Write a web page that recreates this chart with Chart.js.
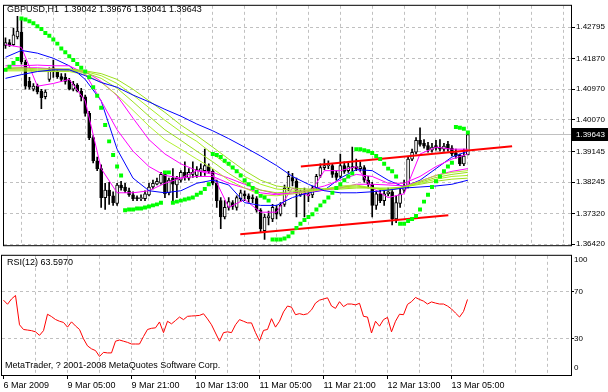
<!DOCTYPE html>
<html>
<head>
<meta charset="utf-8">
<title>GBPUSD,H1</title>
<script src="https://cdn.jsdelivr.net/npm/chart.js@4.4.1/dist/chart.umd.min.js"></script>
<style>
  body { margin: 0; background: #fff; }
  #wrap { position: relative; width: 608px; height: 392px; }
  canvas { position: absolute; left: 0; }
  #mainChart { top: 0; }
  #rsiChart { top: 251px; }
</style>
</head>
<body>
<div id="wrap">
  <canvas id="mainChart" width="608" height="251"></canvas>
  <canvas id="rsiChart" width="608" height="141"></canvas>
</div>
<script>
// GBPUSD H1 candles, bar 0 = 6 Mar 2009
const barOpen = [1.4226,1.4234,1.4228,1.4251,1.4265,1.4177,1.4120,1.4097,1.4106,1.4092,
  1.4075,1.4126,1.4160,1.4149,1.4134,1.4132,1.4123,1.4097,1.4109,1.4092,
  1.4075,1.4026,1.3955,1.3887,1.3864,1.3779,1.3801,1.3784,1.3762,1.3816,
  1.3810,1.3799,1.3787,1.3779,1.3776,1.3776,1.3787,1.3810,1.3818,1.3821,
  1.3847,1.3793,1.3836,1.3816,1.3830,1.3853,1.3836,1.3847,1.3844,1.3856,
  1.3858,1.3870,1.3856,1.3821,1.3770,1.3722,1.3750,1.3764,1.3750,1.3776,
  1.3790,1.3784,1.3779,1.3776,1.3742,1.3682,1.3719,1.3716,1.3747,1.3730,
  1.3759,1.3807,1.3838,1.3827,1.3787,1.3796,1.3784,1.3787,1.3807,1.3844,
  1.3867,1.3873,1.3873,1.3850,1.3841,1.3873,1.3858,1.3870,1.3870,1.3864,
  1.3867,1.3830,1.3818,1.3756,1.3790,1.3770,1.3790,1.3796,1.3716,1.3762,
  1.3801,1.3813,1.3892,1.3912,1.3947,1.3938,1.3932,1.3918,1.3932,1.3927,
  1.3921,1.3935,1.3924,1.3910,1.3904,1.3878,1.39042];
const barHigh = [1.4248,1.4243,1.4277,1.4311,1.4308,1.4183,1.4132,1.4114,1.4112,1.4097,
  1.4095,1.4160,1.4183,1.4154,1.4143,1.4143,1.4129,1.4120,1.4114,1.4100,
  1.4080,1.4032,1.3961,1.3898,1.3875,1.3821,1.3824,1.3796,1.3821,1.3827,
  1.3821,1.3807,1.3796,1.3784,1.3787,1.3799,1.3821,1.3830,1.3836,1.3853,
  1.3856,1.3836,1.3864,1.3841,1.3858,1.3884,1.3864,1.3884,1.3870,1.3878,
  1.3921,1.3878,1.3861,1.3830,1.3779,1.3770,1.3779,1.3770,1.3784,1.3801,
  1.3799,1.3790,1.3787,1.3782,1.3747,1.3730,1.3739,1.3759,1.3756,1.3764,
  1.3816,1.3856,1.3850,1.3836,1.3801,1.3807,1.3799,1.3813,1.3847,1.3878,
  1.3892,1.3887,1.3878,1.3858,1.3907,1.3884,1.3881,1.3927,1.3892,1.3884,
  1.3873,1.3841,1.3824,1.3796,1.3801,1.3801,1.3807,1.3804,1.3784,1.3807,
  1.3830,1.3898,1.3921,1.3955,1.3984,1.3949,1.3941,1.3938,1.3947,1.3949,
  1.3938,1.3944,1.3932,1.3921,1.3907,1.3921,1.39676];
const barLow = [1.4217,1.4223,1.4226,1.4245,1.4171,1.4097,1.4097,1.4092,1.4083,1.4040,
  1.4069,1.4120,1.4132,1.4129,1.4120,1.4112,1.4095,1.4092,1.4089,1.4063,
  1.4018,1.3949,1.3881,1.3858,1.3750,1.3744,1.3759,1.3756,1.3756,1.3801,
  1.3793,1.3782,1.3770,1.3770,1.3770,1.3770,1.3784,1.3804,1.3816,1.3818,
  1.3779,1.3787,1.3770,1.3779,1.3824,1.3830,1.3830,1.3838,1.3838,1.3841,
  1.3844,1.3850,1.3816,1.3750,1.3688,1.3716,1.3742,1.3744,1.3742,1.3767,
  1.3770,1.3764,1.3764,1.3736,1.3676,1.3656,1.3699,1.3708,1.3716,1.3725,
  1.3753,1.3799,1.3813,1.3722,1.3782,1.3722,1.3767,1.3779,1.3801,1.3838,
  1.3861,1.3864,1.3838,1.3830,1.3836,1.3850,1.3853,1.3856,1.3858,1.3856,
  1.3824,1.3807,1.3722,1.3744,1.3764,1.3756,1.3784,1.3699,1.3705,1.3750,
  1.3793,1.3807,1.3887,1.3907,1.3930,1.3924,1.3912,1.3912,1.3918,1.3915,
  1.3915,1.3915,1.3901,1.3895,1.3873,1.3873,1.39041];
const barClose = [1.4234,1.4228,1.4257,1.4268,1.4177,1.4106,1.4103,1.4106,1.4089,1.4072,
  1.4089,1.4154,1.4149,1.4134,1.4126,1.4120,1.4097,1.4112,1.4092,1.4075,
  1.4026,1.3955,1.3887,1.3864,1.3779,1.3801,1.3784,1.3764,1.3816,1.3807,
  1.3799,1.3787,1.3776,1.3776,1.3779,1.3790,1.3810,1.3821,1.3827,1.3847,
  1.3790,1.3830,1.3818,1.3836,1.3853,1.3838,1.3853,1.3853,1.3861,1.3864,
  1.3873,1.3856,1.3821,1.3770,1.3722,1.3750,1.3767,1.3753,1.3779,1.3793,
  1.3784,1.3776,1.3776,1.3742,1.3688,1.3722,1.3725,1.3750,1.3730,1.3756,
  1.3807,1.3841,1.3827,1.3793,1.3796,1.3790,1.3790,1.3807,1.3841,1.3867,
  1.3873,1.3875,1.3847,1.3838,1.3873,1.3856,1.3870,1.3867,1.3864,1.3870,
  1.3830,1.3818,1.3756,1.3790,1.3770,1.3790,1.3796,1.3716,1.3764,1.3790,
  1.3813,1.3892,1.3912,1.3947,1.3935,1.3930,1.3918,1.3927,1.3924,1.3921,
  1.3930,1.3921,1.3907,1.3901,1.3878,1.3901,1.39643];

// Parabolic SAR, one dot per bar
const sarValues = [1.4154,1.4163,1.4174,1.4186,1.4305,1.4302,1.4297,1.4291,1.4282,1.4274,
  1.4262,1.4254,1.4243,1.4231,1.4217,1.4206,1.4194,1.4183,1.4171,1.4160,
  1.4149,1.4132,1.4103,1.4078,1.4043,1.3992,1.3944,1.3904,1.3870,1.3844,
  1.3742,1.3744,1.3744,1.3747,1.3747,1.3750,1.3753,1.3756,1.3759,1.3764,
  1.3853,1.3853,1.3764,1.3767,1.3770,1.3773,1.3776,1.3779,1.3787,1.3793,
  1.3804,1.3818,1.3907,1.3904,1.3898,1.3887,1.3878,1.3867,1.3856,1.3844,
  1.3830,1.3818,1.3807,1.3796,1.3784,1.3779,1.3770,1.3656,1.3656,1.3656,
  1.3659,1.3665,1.3676,1.3690,1.3702,1.3713,1.3722,1.3730,1.3744,1.3756,
  1.3767,1.3779,1.3793,1.3807,1.3818,1.3830,1.3841,1.3850,1.3921,1.3921,
  1.3918,1.3915,1.3910,1.3901,1.3892,1.3878,1.3864,1.3856,1.3841,1.3702,
  1.3702,1.3710,1.3716,1.3725,1.3744,1.3767,1.3787,1.3810,1.3827,1.3841,
  1.3856,1.3870,1.3881,1.3986,1.3984,1.3981,1.3970];

// moving averages, read every 4 bars
const maBars = [0,4,8,12,16,20,24,28,32,36,40,44,48,52,56,60,64,68,72,76,80,84,88,92,96,100,104,108,112,116];
const magentaFast = [1.4228,1.4220,1.4106,1.4114,1.4126,1.4063,1.3864,1.3793,1.3793,1.3799,1.3821,1.3836,1.3858,1.3847,1.3750,
  1.3773,1.3736,1.3736,1.3807,1.3784,1.3858,1.3858,1.3870,1.3807,1.3779,1.3790,1.3907,1.3927,1.3921,1.3921];
const magentaMid = [1.4166,1.4166,1.4168,1.4166,1.4166,1.4143,1.4063,1.3978,1.3915,1.3870,1.3844,1.3836,1.3841,1.3841,1.3821,
  1.3807,1.3793,1.3787,1.3793,1.3801,1.3813,1.3830,1.3847,1.3841,1.3821,1.3821,1.3841,1.3870,1.3892,1.3907];
const magentaSlow = [1.4157,1.4160,1.4160,1.4157,1.4154,1.4149,1.4120,1.4078,1.4012,1.3949,1.3907,1.3878,1.3858,1.3853,1.3836,
  1.3818,1.3801,1.3790,1.3790,1.3796,1.3801,1.3807,1.3818,1.3818,1.3816,1.3813,1.3827,1.3844,1.3856,1.3864];
const limeA = [1.4160,1.4160,1.4157,1.4157,1.4157,1.4151,1.4143,1.4126,1.4097,1.4063,1.4029,1.3992,1.3961,1.3927,1.3892,
  1.3858,1.3830,1.3813,1.3807,1.3804,1.3804,1.3804,1.3807,1.3807,1.3807,1.3810,1.3818,1.3827,1.3833,1.3836];
const limeB = [1.4157,1.4157,1.4154,1.4154,1.4154,1.4149,1.4137,1.4114,1.4080,1.4043,1.4006,1.3972,1.3944,1.3907,1.3873,
  1.3841,1.3818,1.3804,1.3801,1.3801,1.3804,1.3807,1.3810,1.3807,1.3804,1.3810,1.3821,1.3833,1.3841,1.3844];
const limeC = [1.4154,1.4154,1.4151,1.4151,1.4151,1.4146,1.4129,1.4100,1.4060,1.4018,1.3978,1.3947,1.3915,1.3884,1.3850,
  1.3821,1.3801,1.3793,1.3796,1.3799,1.3804,1.3810,1.3813,1.3807,1.3801,1.3810,1.3824,1.3838,1.3847,1.3853];
const limeD = [1.4151,1.4151,1.4149,1.4149,1.4149,1.4140,1.4117,1.4080,1.4035,1.3989,1.3949,1.3921,1.3892,1.3864,1.3830,
  1.3807,1.3787,1.3784,1.3790,1.3796,1.3804,1.3813,1.3816,1.3807,1.3799,1.3810,1.3827,1.3844,1.3853,1.3858];
const blueFast = [1.4191,1.4211,1.4203,1.4188,1.4166,1.4126,1.4063,1.3921,1.3836,1.3799,1.3793,1.3799,1.3821,1.3830,1.3816,
  1.3764,1.3756,1.3756,1.3779,1.3793,1.3801,1.3836,1.3861,1.3858,1.3830,1.3810,1.3830,1.3864,1.3898,1.3915];
const blueSlow = [1.4129,1.4140,1.4149,1.4154,1.4154,1.4137,1.4117,1.4103,1.4080,1.4060,1.4038,1.4018,1.3995,1.3975,1.3952,
  1.3927,1.3901,1.3873,1.3841,1.3818,1.3799,1.3793,1.3793,1.3796,1.3801,1.3807,1.3810,1.3813,1.3818,1.3830];

// hand drawn trend lines (bar position, price)
const trendLowBars = [58.9, 111.1];
const trendLowPrices = [1.3671, 1.3727];
const trendHighBars = [74.1, 127.1];
const trendHighPrices = [1.3870, 1.3930];

// RSI(12)
const rsiValues = [63,59.5,64,67,42,38,37.5,37,36,33,
  37,51,49,46.5,45,44,40,44.5,41,38,
  30,24,21.5,20,15,18.5,18,18,28,29,
  28,27,25.6,25.6,25.6,32,38,39,39.4,44.4,
  35.3,45,42.8,45.6,48.6,46.4,49.2,49.5,49.7,50,
  51.4,47,42,35,28,35.3,36,35.3,42,46.4,
  45,43.6,43.6,35.3,28.3,37.2,38,47.2,40,45,
  53,58,57,50.6,51.5,50.6,51.4,54.7,60.5,63,
  64,65,58,56,61.7,57.5,59.7,59.7,59,60.3,
  49.2,48.6,35,45,40.8,46.4,48.3,36,45,51,
  50.6,59.4,61.7,65.3,63.6,62.2,59.7,61.5,60.5,59.7,
  59.7,58,55.5,52,48.6,53.3,63.597];

const priceTicks = [1.42795, 1.41870, 1.40970, 1.40070, 1.39145, 1.38245, 1.37320, 1.36420];
const rsiTicks = [30, 70];
const timeLabels = ['6 Mar 2009', '9 Mar 05:00', '9 Mar 21:00', '10 Mar 13:00',
  '11 Mar 05:00', '11 Mar 21:00', '12 Mar 13:00', '13 Mar 05:00'];

const GRID = '#c0c0c0';
const DASH = [3, 3];
const FONT = '"Liberation Sans", Arial, sans-serif';
const X_MIN = -0.375, X_MAX = 141.875;

Chart.defaults.font.family = FONT;
Chart.defaults.font.size = 9;
Chart.defaults.color = '#000';

const last = barClose.length - 1;

// frame around the plot area plus the corner texts
function framePlugin(texts) {
  return {
    id: 'frame',
    afterDraw(chart) {
      const { ctx, chartArea: a } = chart;
      ctx.save();
      ctx.strokeStyle = '#000';
      ctx.lineWidth = 1;
      ctx.strokeRect(a.left - 0.5, a.top - 0.5, a.right - a.left + 1, a.bottom - a.top + 1);
      ctx.fillStyle = '#000';
      ctx.textBaseline = 'middle';
      texts.forEach(t => {
        ctx.font = (t.size || 9) + 'px ' + FONT;
        ctx.fillText(t.text, t.x, t.y);
      });
      ctx.restore();
    }
  };
}

// bid line and the black price box on the axis
const bidLine = {
  id: 'bidLine',
  beforeDatasetsDraw(chart) {
    const { ctx, chartArea: a } = chart;
    const y = Math.round(chart.scales.y.getPixelForValue(barClose[last])) + 0.5;
    ctx.save();
    ctx.strokeStyle = GRID;
    ctx.beginPath();
    ctx.moveTo(a.left, y);
    ctx.lineTo(a.right, y);
    ctx.stroke();
    ctx.restore();
  },
  afterDraw(chart) {
    const { ctx, chartArea: a } = chart;
    const y = Math.round(chart.scales.y.getPixelForValue(barClose[last]));
    ctx.save();
    ctx.fillStyle = '#000';
    ctx.fillRect(a.right + 1, y - 6, 36, 13);
    ctx.fillStyle = '#fff';
    ctx.font = '8px ' + FONT;
    ctx.textBaseline = 'middle';
    ctx.fillText(barClose[last].toFixed(5), a.right + 5, y + 0.5);
    ctx.restore();
  }
};

function maLine(values, color) {
  return {
    type: 'line',
    data: values.map((v, k) => ({ x: maBars[k], y: v })),
    borderColor: color,
    borderWidth: 1,
    pointRadius: 0,
    fill: false,
    order: 2
  };
}

function trendLine(bars, prices) {
  return {
    type: 'line',
    data: bars.map((b, k) => ({ x: b, y: prices[k] })),
    borderColor: '#ff0000',
    borderWidth: 2,
    pointRadius: 0,
    order: 1
  };
}

const gridBars = [];
for (let b = 8; b <= 136; b += 8) gridBars.push(b);

const titleText = 'GBPUSD,H1  ' + [barOpen[last], barHigh[last], barLow[last], barClose[last]]
  .map(v => v.toFixed(5)).join(' ');

new Chart(document.getElementById('mainChart'), {
  type: 'bar',
  data: {
    datasets: [
      {
        type: 'line',
        data: sarValues.map((v, i) => ({ x: i, y: v })),
        showLine: false,
        pointStyle: 'rect',
        pointRadius: 2.8,
        pointBorderWidth: 0,
        pointBackgroundColor: '#00ff00',
        order: 0
      },
      trendLine(trendLowBars, trendLowPrices),
      trendLine(trendHighBars, trendHighPrices),
      maLine(blueSlow, '#0000ff'),
      maLine(limeA, '#9be01e'),
      maLine(limeB, '#a8ee22'),
      maLine(limeC, '#9be01e'),
      maLine(limeD, '#b2f030'),
      maLine(magentaSlow, '#ff00ff'),
      maLine(magentaMid, '#ff00ff'),
      maLine(blueFast, '#0000ff'),
      maLine(magentaFast, '#ff00ff'),
      {
        data: barOpen.map((o, i) => ({ x: i, y: [o, barClose[i]] })),
        backgroundColor: barOpen.map((o, i) => barClose[i] >= o ? '#ffffff' : '#000000'),
        borderColor: '#000',
        borderWidth: 1,
        borderSkipped: false,
        barThickness: 3,
        minBarLength: 1,
        grouped: false,
        order: 3
      },
      {
        data: barLow.map((lo, i) => ({ x: i, y: [lo, barHigh[i]] })),
        backgroundColor: '#000',
        barThickness: 1,
        grouped: false,
        order: 4
      }
    ]
  },
  options: {
    responsive: false,
    animation: false,
    events: [],
    devicePixelRatio: 1,
    layout: { padding: { left: 2, top: 2, right: 0, bottom: 2 } },
    plugins: { legend: { display: false }, tooltip: { enabled: false } },
    scales: {
      x: {
        type: 'linear',
        min: X_MIN,
        max: X_MAX,
        offset: false,
        afterBuildTicks: s => { s.ticks = gridBars.map(v => ({ value: v })); },
        afterFit: s => { s.height = 0; },
        ticks: { display: false },
        grid: { color: GRID, drawTicks: false },
        border: { display: false, dash: DASH }
      },
      y: {
        position: 'right',
        min: 1.36391,
        max: 1.43421,
        afterBuildTicks: s => { s.ticks = priceTicks.map(v => ({ value: v })); },
        afterFit: s => { s.width = 37; },
        ticks: { callback: v => v.toFixed(5), padding: 1, font: { size: 8 } },
        grid: { color: GRID, tickColor: '#000', tickLength: 4 },
        border: { display: false, dash: DASH }
      }
    }
  },
  plugins: [bidLine, framePlugin([{ text: titleText, x: 7, y: 10 }])]
});

const rsiGridBars = [];
for (let b = 0; b <= 136; b += 8) rsiGridBars.push(b);

new Chart(document.getElementById('rsiChart'), {
  type: 'line',
  data: {
    datasets: [{
      data: rsiValues.map((v, i) => ({ x: i, y: v })),
      borderColor: '#ff0000',
      borderWidth: 1,
      pointRadius: 0,
      fill: false
    }]
  },
  options: {
    responsive: false,
    animation: false,
    events: [],
    devicePixelRatio: 1,
    layout: { padding: { left: 2, top: 2, right: 0, bottom: 0 } },
    plugins: { legend: { display: false }, tooltip: { enabled: false } },
    scales: {
      x: {
        type: 'linear',
        min: X_MIN,
        max: X_MAX,
        offset: false,
        afterBuildTicks: s => { s.ticks = rsiGridBars.map(v => ({ value: v })); },
        afterFit: s => { s.height = 17; },
        ticks: {
          autoSkip: false,
          maxRotation: 0,
          align: 'start',
          padding: 1,
          callback: v => (v % 16 === 0 && timeLabels[v / 16]) ? timeLabels[v / 16] : ''
        },
        grid: {
          color: c => (c.tick && c.tick.value > 0) ? GRID : 'rgba(0,0,0,0)',
          tickColor: c => (c.tick && c.tick.value % 16 === 0 && c.tick.value / 16 < timeLabels.length) ? '#000' : 'rgba(0,0,0,0)',
          tickLength: 4
        },
        border: { display: false, dash: DASH }
      },
      y: {
        position: 'right',
        min: -0.83,
        max: 100.83,
        afterBuildTicks: s => { s.ticks = rsiTicks.map(v => ({ value: v })); },
        afterFit: s => { s.width = 37; },
        ticks: { padding: 0, font: { size: 8 } },
        grid: { color: GRID, tickColor: '#000', tickLength: 3 },
        border: { display: false, dash: DASH }
      }
    }
  },
  plugins: [framePlugin([
    { text: 'RSI(12) ' + rsiValues[last].toFixed(4), x: 7, y: 12 },
    { text: 'MetaTrader, ? 2001-2008 MetaQuotes Software Corp.', x: 5, y: 115 },
    { text: '100', x: 574, y: 9, size: 8 },
    { text: '0', x: 574, y: 117, size: 8 }
  ])]
});
</script>
</body>
</html>
